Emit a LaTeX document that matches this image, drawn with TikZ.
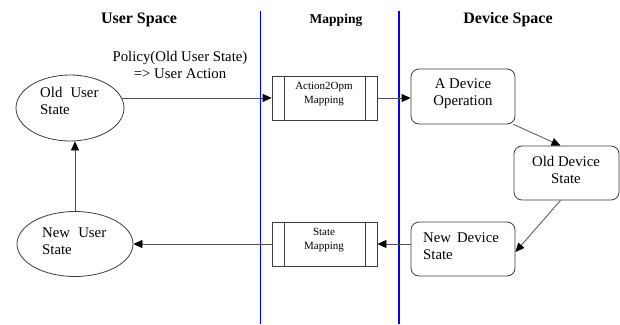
\documentclass[tikz,border=0pt]{standalone}
\usepackage{fontspec}
\setmainfont{Liberation Serif}
\usetikzlibrary{shapes.geometric,arrows.meta}
\definecolor{edgegray}{HTML}{505050}
\definecolor{shapegray}{HTML}{3C3C3C}
\definecolor{laneblue}{HTML}{0000FF}
\begin{document}
\begin{tikzpicture}[x=1pt,y=-1pt,
  lane/.style={draw=laneblue,line width=1.2pt},
  header/.style={font=\bfseries\fontsize{16}{18}\selectfont},
  subheader/.style={font=\bfseries\fontsize{13.5}{16}\selectfont},
  bodytext/.style={font=\fontsize{14.8}{17}\selectfont,inner sep=0pt},
  smalltext/.style={font=\fontsize{11}{13.5}\selectfont,inner sep=0pt,align=center},
  userstate/.style={ellipse,draw=shapegray,line width=0.8pt,inner sep=0pt},
  devbox/.style={rectangle,rounded corners=8pt,draw=shapegray,line width=0.8pt,
    minimum width=104pt,minimum height=54pt,inner sep=0pt},
  mapbox/.style={rectangle,draw=shapegray,line width=0.8pt,
    minimum width=105pt,minimum height=44pt,inner sep=0pt,
    path picture={
      \draw[shapegray,line width=0.8pt]
        ([xshift=12pt]path picture bounding box.north west) --
        ([xshift=12pt]path picture bounding box.south west);
      \draw[shapegray,line width=0.8pt]
        ([xshift=-12pt]path picture bounding box.north east) --
        ([xshift=-12pt]path picture bounding box.south east);
    }},
  conn/.style={draw=edgegray,line width=0.8pt,
    -{Triangle[length=9pt,width=8pt,color=black]}},
]
\useasboundingbox (0,0) rectangle (620,324);

% swim-lane separators
\coordinate (laneAtop) at (260.5,11);
\coordinate (laneAbot) at (260.5,324);
\coordinate (laneBtop) at (399,11);
\coordinate (laneBbot) at (399,324);
\draw[lane] (laneAtop) -- (laneAbot);
\draw[lane] (laneBtop) -- (laneBbot);

% lane headings
\node[header] (hdruser) at (139,20) {User Space};
\node[subheader] (hdrmap) at (336,20) {Mapping};
\node[header] (hdrdev) at (508,20) {Device Space};

% user-side states
\node[userstate,minimum width=108pt,minimum height=66pt] (olduser) at (70,108) {};
\node[bodytext,align=left,anchor=west] (olduserlbl) at (40,101)
  {Old\hspace{0.55em}User\\State};
\node[userstate,minimum width=116pt,minimum height=65pt] (newuser) at (75,244) {};
\node[bodytext,align=left,anchor=west] (newuserlbl) at (42,241)
  {New\hspace{0.55em}User\\State};

% mapping processes
\node[mapbox] (actmap) at (324.5,98) {};
\node[smalltext] (actmaplbl) at (324,94) {Action2Opm\\Mapping};
\node[mapbox] (statemap) at (324.5,244) {};
\node[smalltext] (statemaplbl) at (324,240) {State\\Mapping};

% device-side boxes
\node[devbox,minimum height=55pt] (devop) at (463,96.5) {};
\node[bodytext,align=center] (devoplbl) at (463,93.5) {A Device\\Operation};
\node[devbox,minimum width=105pt] (olddev) at (566.5,173) {};
\node[bodytext,align=center] (olddevlbl) at (566,170) {Old Device\\State};
\node[devbox] (newdev) at (463,249) {};
\node[bodytext,align=left,anchor=west] (newdevlbl) at (423,246)
  {New\hspace{0.4em}Device\\State};

% policy label
\node[bodytext,align=center] (policylbl) at (180,65)
  {Policy(Old User State)\\=> User Action};

% connectors
\draw[conn] (olduser.11) -- (olduser.11 -| actmap.west);
\draw[conn] (actmap.east) -- (actmap.east -| devop.west);
\draw[conn] ([xshift=-2pt]devop.south east) -- ([xshift=-6pt]olddev.north);
\draw[conn] ([xshift=-6pt]olddev.south) -- ([yshift=-3pt]newdev.east);
\draw[conn] (newdev.west |- statemap.east) -- (statemap.east);
\draw[conn] (statemap.west) -- (newuser.east);
\draw[conn] (newuser.north) -- (olduser.south -| newuser.north);
\end{tikzpicture}
\end{document}
